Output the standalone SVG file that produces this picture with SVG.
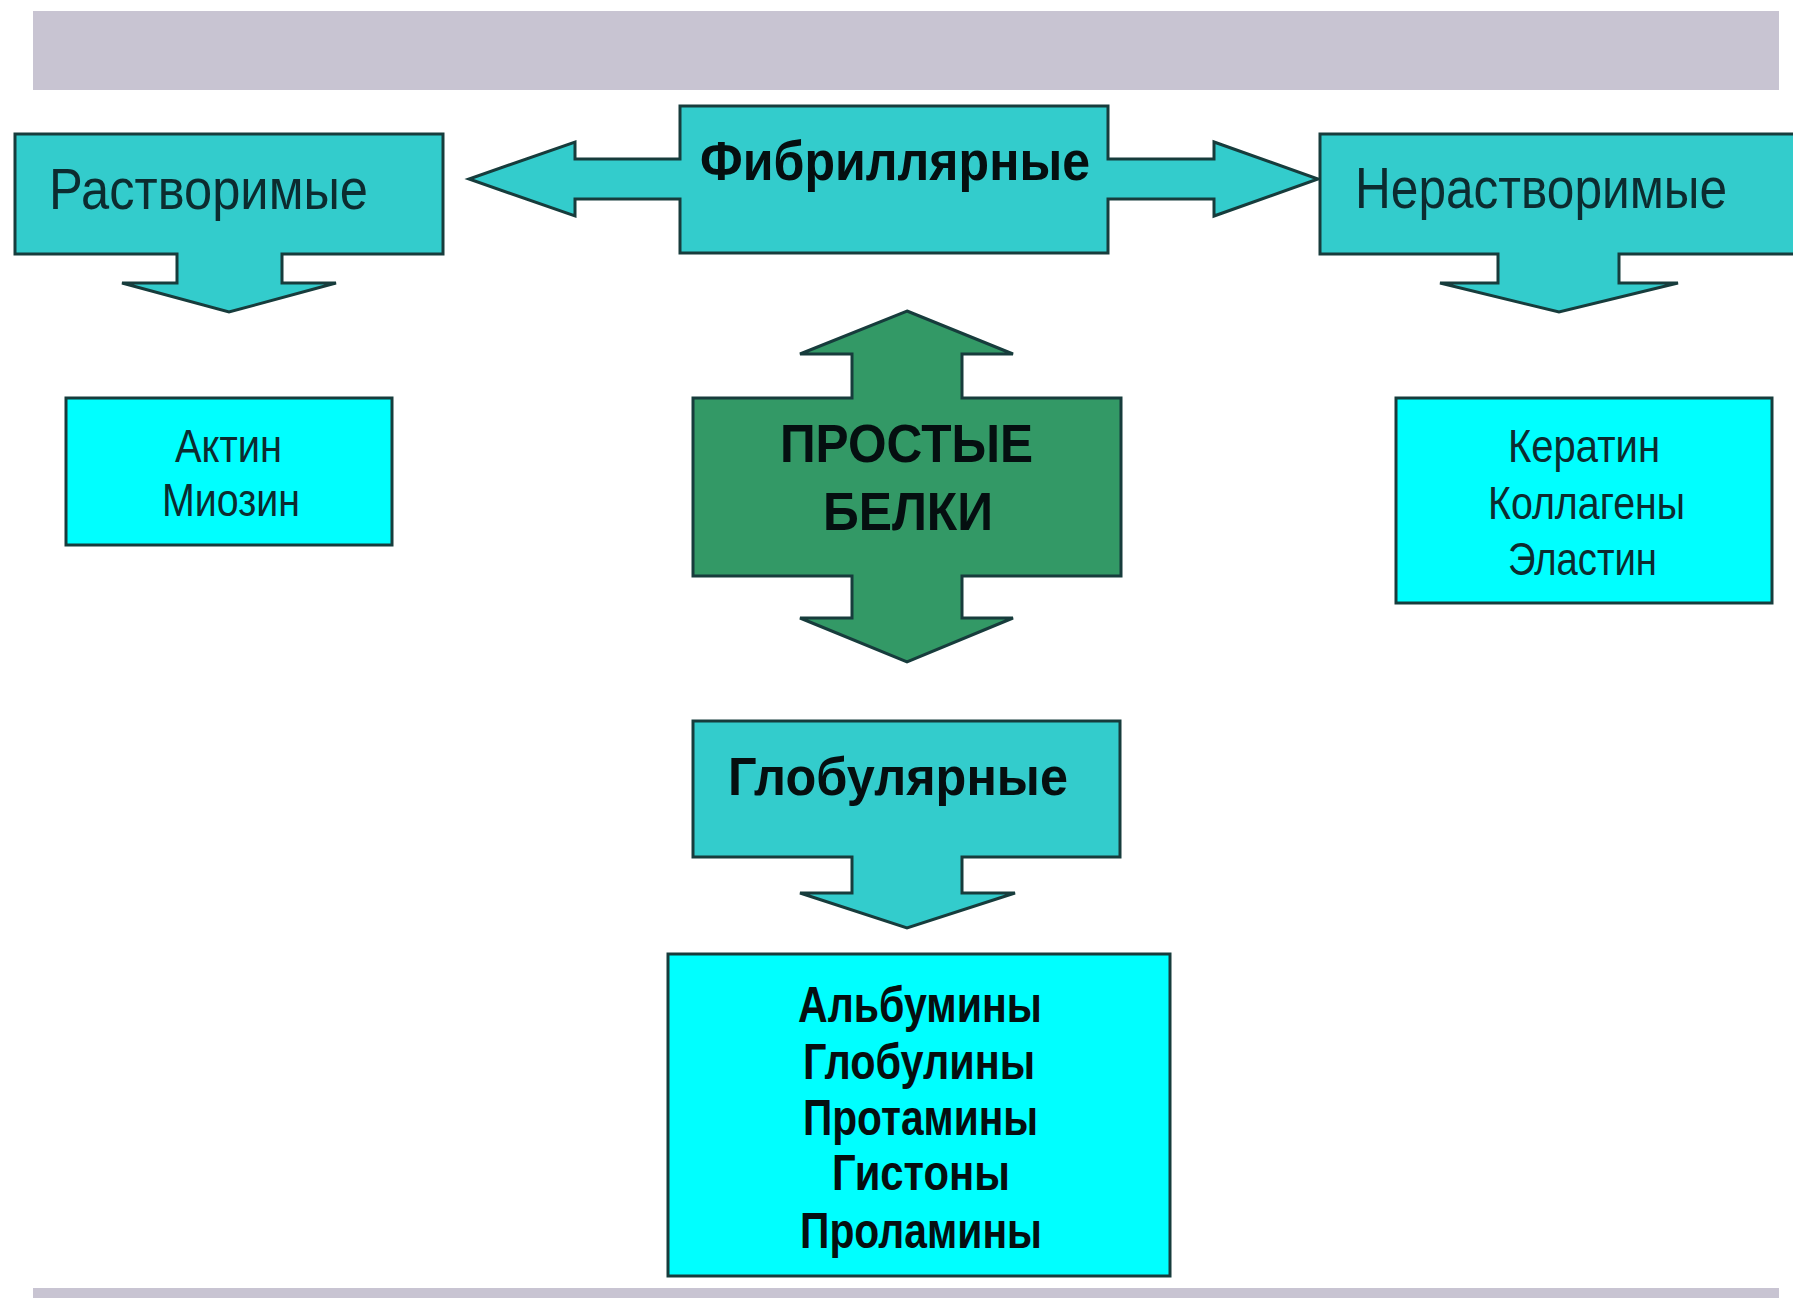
<svg xmlns="http://www.w3.org/2000/svg" width="1793" height="1298" viewBox="0 0 1793 1298">
<style>
.teal{fill:#33cccc;stroke:#173c3c;stroke-width:3;stroke-linejoin:miter}
.cyan{fill:#00ffff;stroke:#173c3c;stroke-width:3}
.green{fill:#339966;stroke:#173c3c;stroke-width:3}
.bar{fill:#c8c4d2}
.reg{font-family:"Liberation Sans",Arial,sans-serif;fill:#0c2c30}
.bold{font-family:"Liberation Sans",Arial,sans-serif;font-weight:bold;fill:#050f10}
</style>
<rect class="bar" x="33" y="11" width="1746" height="79"/>
<rect class="bar" x="33" y="1288" width="1746" height="10"/>
<g id="connectors">
</g>
<g id="rastvorimye">
<path class="teal" d="M15,134 H443 V254 H282 V283 H336 L229,312 L122,283 H177 V254 H15 Z"/>
<text class="reg" x="49" y="209" font-size="57" textLength="319" lengthAdjust="spacingAndGlyphs">Растворимые</text>
</g>
<g id="fibrillyarnye">
<path class="teal" d="M680,106 H1108 V159 H1214 V142 L1318,179 L1214,216 V199 H1108 V253 H680 V199 H575 V216 L469,179 L575,142 V159 H680 Z"/>
<text class="bold" x="700" y="180" font-size="56" textLength="390" lengthAdjust="spacingAndGlyphs">Фибриллярные</text>
</g>
<g id="nerastvorimye">
<path class="teal" d="M1320,134 H1800 V254 H1619 V283 H1678 L1559,312 L1440,283 H1498 V254 H1320 Z"/>
<text class="reg" x="1355" y="208" font-size="57" textLength="372" lengthAdjust="spacingAndGlyphs">Нерастворимые</text>
</g>
<g id="aktin">
<rect class="cyan" x="66" y="398" width="326" height="147"/>
<text class="reg" x="175" y="462" font-size="46" textLength="107" lengthAdjust="spacingAndGlyphs">Актин</text>
<text class="reg" x="162" y="516" font-size="46" textLength="138" lengthAdjust="spacingAndGlyphs">Миозин</text>
</g>
<g id="keratin">
<rect class="cyan" x="1396" y="398" width="376" height="205"/>
<text class="reg" x="1508" y="462" font-size="46" textLength="152" lengthAdjust="spacingAndGlyphs">Кератин</text>
<text class="reg" x="1488" y="519" font-size="46" textLength="197" lengthAdjust="spacingAndGlyphs">Коллагены</text>
<text class="reg" x="1508" y="575" font-size="46" textLength="149" lengthAdjust="spacingAndGlyphs">Эластин</text>
</g>
<g id="prostye">
<path class="green" d="M907,311 L1013,354 H962 V398 H1121 V576 H962 V618 H1013 L907,662 L800,618 H852 V576 H693 V398 H852 V354 H800 Z"/>
<text class="bold" x="780" y="462" font-size="54" textLength="253" lengthAdjust="spacingAndGlyphs">ПРОСТЫЕ</text>
<text class="bold" x="823" y="530" font-size="54" textLength="170" lengthAdjust="spacingAndGlyphs">БЕЛКИ</text>
</g>
<g id="globulyarnye">
<path class="teal" d="M693,721 H1120 V857 H962 V893 H1015 L907,928 L800,893 H852 V857 H693 Z"/>
<text class="bold" x="728" y="795" font-size="54" textLength="340" lengthAdjust="spacingAndGlyphs">Глобулярные</text>
</g>
<g id="albuminy">
<rect class="cyan" x="668" y="954" width="502" height="322"/>
<text class="bold" x="798" y="1022" font-size="50" textLength="244" lengthAdjust="spacingAndGlyphs">Альбумины</text>
<text class="bold" x="803" y="1079" font-size="50" textLength="232" lengthAdjust="spacingAndGlyphs">Глобулины</text>
<text class="bold" x="803" y="1135" font-size="50" textLength="235" lengthAdjust="spacingAndGlyphs">Протамины</text>
<text class="bold" x="832" y="1190" font-size="50" textLength="178" lengthAdjust="spacingAndGlyphs">Гистоны</text>
<text class="bold" x="800" y="1248" font-size="50" textLength="242" lengthAdjust="spacingAndGlyphs">Проламины</text>
</g>
</svg>
